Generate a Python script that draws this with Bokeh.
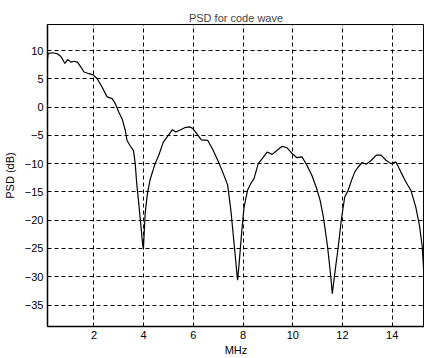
from bokeh.plotting import figure
from bokeh.models import Range1d, FixedTicker
from bokeh.embed import file_html
from bokeh.resources import INLINE

freq_mhz = [0.13, 0.15, 0.17, 0.34, 0.54, 0.67, 0.83, 0.94, 1.07, 1.2, 1.33, 1.47, 1.6, 1.8, 1.97,
            2.13, 2.33, 2.53, 2.73, 2.86, 3.0, 3.13, 3.26, 3.33, 3.45, 3.59, 3.66, 3.72, 3.79, 3.88,
            3.96, 3.99,
            4.06, 4.15, 4.26, 4.46, 4.6, 4.79, 4.99, 5.16, 5.29, 5.45, 5.65, 5.85, 5.98, 6.12,
            6.32, 6.58, 6.78, 6.98, 7.18, 7.38, 7.51, 7.65, 7.74, 7.78, 7.84, 7.95, 8.04, 8.18,
            8.3, 8.44, 8.61, 8.77, 8.97, 9.17, 9.37, 9.57, 9.77, 9.97, 10.17, 10.37, 10.57,
            10.77, 10.96, 11.1, 11.23, 11.4, 11.53, 11.59, 11.69, 11.83, 11.96, 12.09, 12.23,
            12.36, 12.49, 12.63, 12.79, 12.96, 13.16, 13.36, 13.55, 13.75, 13.95, 14.15, 14.35,
            14.55, 14.75, 14.95, 15.1, 15.21, 15.28]
psd_db = [8.5, 9.3, 9.5, 9.6, 9.4, 8.95, 7.7, 8.4, 7.95, 8.1, 7.95, 7.1, 6.2, 5.9, 5.7,
          5.0, 3.5, 1.8, 1.5, 0.6, -0.9, -2.05, -4.1, -5.9, -6.8, -7.7, -10.0, -13.5, -16.5, -20.6,
          -24.4, -25.0,
          -18.8, -15.3, -12.8, -10.0, -8.6, -6.2, -5.0, -4.0, -4.4, -4.1, -3.65, -3.5, -3.8, -4.6,
          -5.8, -5.9, -7.5, -9.4, -11.5, -13.8, -18.3, -24.7, -28.9, -30.6, -27.7, -21.8, -17.7, -14.7,
          -13.6, -12.65, -10.0, -9.1, -7.95, -8.36, -7.65, -6.94, -7.2, -8.2, -8.95, -8.8, -10.3,
          -12.1, -14.4, -16.5, -19.4, -24.7, -30.0, -33.0, -29.4, -24.7, -19.7, -15.9, -14.7,
          -13.0, -11.5, -10.6, -9.8, -10.1, -9.4, -8.5, -8.5, -9.4, -10.0, -9.7, -11.5,
          -13.25, -14.7, -17.7, -21.0, -24.7, -30.0]

x_ticks = [2, 4, 6, 8, 10, 12, 14]
y_ticks = [-35, -30, -25, -20, -15, -10, -5, 0, 5, 10]

FONT = "Liberation Sans"

p = figure(width=424, height=358, output_backend="svg", toolbar_location=None,
           x_range=Range1d(0.13, 15.3), y_range=Range1d(-38.8, 14.6),
           title="PSD for code wave", x_axis_label="MHz", y_axis_label="PSD (dB)",
           min_border_left=43, min_border_right=0, min_border_top=24, min_border_bottom=32)

p.background_fill_color = "white"
p.border_fill_color = "white"
p.outline_line_color = "black"
p.outline_line_width = 1

p.title.align = "center"
p.title.text_font = FONT
p.title.text_font_size = "11px"
p.title.text_font_style = "normal"
p.title.standoff = 2
p.title.offset = 0

for ax in (p.xaxis[0], p.yaxis[0]):
    ax.axis_line_color = "black"
    ax.axis_line_width = 1.5
    ax.major_tick_in = 3
    ax.major_tick_out = 0
    ax.minor_tick_line_color = None
    ax.major_label_text_font = FONT
    ax.major_label_text_font_size = "11px"
    ax.major_label_text_color = "black"
    ax.axis_label_text_font = FONT
    ax.axis_label_text_font_size = "11px"
    ax.axis_label_text_font_style = "normal"
    ax.axis_label_text_color = "black"

p.xaxis.ticker = FixedTicker(ticks=x_ticks)
p.yaxis.ticker = FixedTicker(ticks=y_ticks)
p.xaxis.major_label_standoff = 4
p.xaxis.axis_label_standoff = 2
p.yaxis.major_label_standoff = 4
p.yaxis.axis_label_standoff = 6

for g in (p.xgrid[0], p.ygrid[0]):
    g.grid_line_color = "black"
    g.grid_line_dash = "4 3"
    g.grid_line_width = 1

p.line(freq_mhz, psd_db, line_color="black", line_width=1.2)

open("out.html", "w").write(file_html(p, INLINE))
